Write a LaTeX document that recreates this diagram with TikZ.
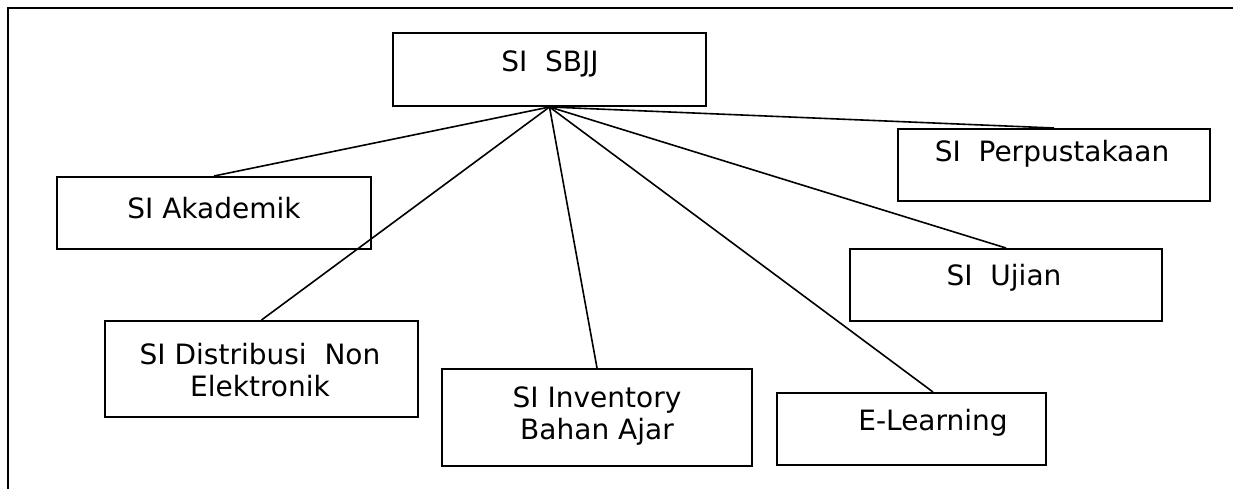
\documentclass[tikz,border=0pt]{standalone}
\usepackage{fontspec}
\setmainfont{DejaVu Sans}
\begin{document}
\begin{tikzpicture}[x=1pt,y=-1pt,
  box/.style={draw, line width=2pt, rectangle, inner sep=0pt},
  caption/.style={font=\fontsize{28}{32}\selectfont, align=center, inner sep=0pt},
  link/.style={line width=1.6pt}]
\useasboundingbox (0,0) rectangle (1233,489);
% table border (top and left only)
\draw[line width=2.4pt] (8,489) -- (8,8) -- (1233,8);

% boxes
\node[box, minimum width=313pt, minimum height=73pt] (sbjj) at (549.5,69.5) {};
\node[box, minimum width=314pt, minimum height=72pt] (akd)  at (214,213) {};
\node[box, minimum width=313pt, minimum height=96pt] (dist) at (261.5,369) {};
\node[box, minimum width=310pt, minimum height=97pt] (inv)  at (597,417.5) {};
\node[box, minimum width=269pt, minimum height=72pt] (el)   at (911.5,429) {};
\node[box, minimum width=312pt, minimum height=72pt] (pus)  at (1054,165) {};
\node[box, minimum width=312pt, minimum height=72pt] (uji)  at (1006,285) {};

% captions
\node[caption] (tsbjj) at (550,64)   {SI~~SBJJ};
\node[caption] (takd)  at (214,208)  {SI Akademik};
\node[caption] (tdist) at (260,370)  {SI Distribusi~~Non\\Elektronik};
\node[caption] (tinv)  at (597,416)  {SI Inventory\\Bahan Ajar};
\node[caption] (tel)   at (933,423)  {E-Learning};
\node[caption] (tpus)  at (1052,154) {SI~~Perpustakaan};
\node[caption] (tuji)  at (1004,278) {SI~~Ujian};

% connectors
\coordinate (elTop) at ([xshift=21.5pt]el.north);
\draw[link] (sbjj.south) -- (akd.north);
\draw[link] (sbjj.south) -- (dist.north);
\draw[link] (sbjj.south) -- (inv.north);
\draw[link] (sbjj.south) -- (elTop);
\draw[link] (sbjj.south) -- (uji.north);
\draw[link] (sbjj.south) -- (pus.north);
\end{tikzpicture}
\end{document}
